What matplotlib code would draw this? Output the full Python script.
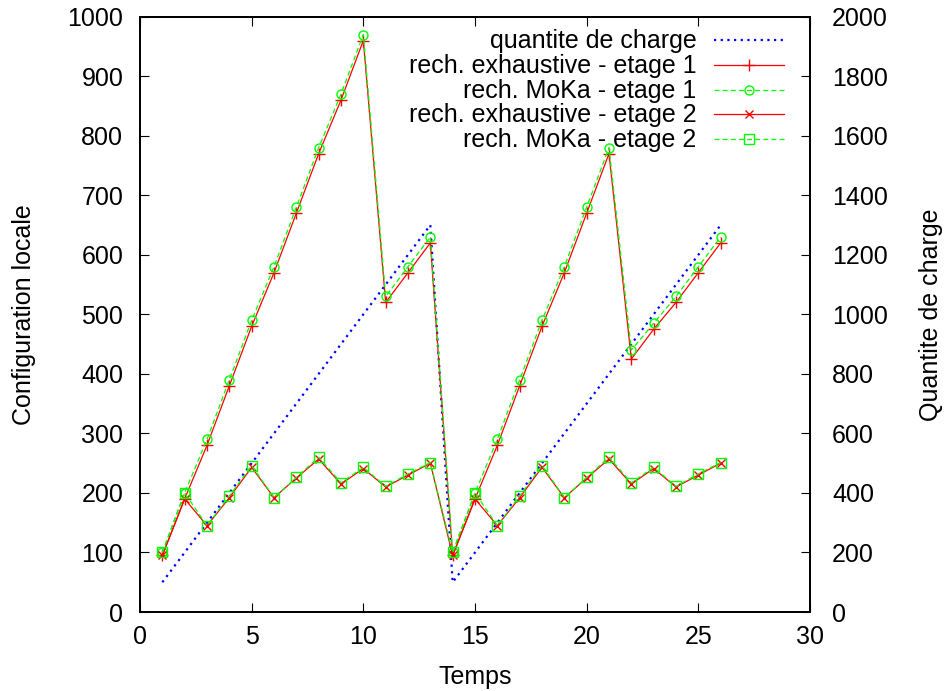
import matplotlib
matplotlib.use("Agg")
import matplotlib.pyplot as plt

plt.rcParams['font.family'] = ['Liberation Sans', 'DejaVu Sans']

temps = list(range(1, 27))
charge = [100, 200, 300, 400, 500, 600, 700, 800, 900, 1000, 1100, 1200, 1300,
          100, 200, 300, 400, 500, 600, 700, 800, 900, 1000, 1100, 1200, 1300]
exh_e1 = [95, 190, 280, 380, 480, 570, 670, 770, 860, 960, 520, 570, 620,
          95, 190, 280, 380, 480, 570, 670, 770, 425, 475, 520, 570, 620]
moka_e1 = [100, 200, 290, 390, 490, 580, 680, 780, 870, 970, 530, 580, 630,
           100, 200, 290, 390, 490, 580, 680, 780, 440, 485, 530, 580, 630]
exh_e2 = [95, 190, 145, 192, 243, 192, 225, 257, 215, 241, 210, 230, 250,
          95, 190, 145, 192, 243, 192, 225, 257, 215, 241, 210, 230, 250]
moka_e2 = [100, 200, 145, 195, 246, 192, 226, 260, 217, 243, 211, 232, 251,
           100, 200, 145, 195, 246, 192, 226, 260, 217, 243, 211, 232, 251]

fig = plt.figure(figsize=(9.44, 6.91), dpi=100)
ax = fig.add_axes([140/944, 1-612/691, 670/944, (612-16.7)/691])
ax2 = ax.twinx()
ax.set_zorder(ax2.get_zorder() + 1)
ax.patch.set_visible(False)

l0, = ax2.plot(temps, charge, color='#0000ff', lw=1.6, linestyle=(0, (1, 2.0)),
               label='quantite de charge')
l1, = ax.plot(temps, exh_e1, color='#ff0000', lw=0.9, marker='+', ms=8, mew=1,
              label='rech. exhaustive - etage 1')
l2, = ax.plot(temps, moka_e1, color='#00ff00', lw=0.9, linestyle=(0, (4, 2.5)),
              marker='o', ms=6.5, mfc='none', mew=1, label='rech. MoKa - etage 1')
l3, = ax.plot(temps, exh_e2, color='#ff0000', lw=0.9, marker='x', ms=6, mew=1,
              label='rech. exhaustive - etage 2')
l4, = ax.plot(temps, moka_e2, color='#00ff00', lw=0.9, linestyle=(0, (4, 2.5)),
              marker='s', ms=6.5, mfc='none', mew=1, label='rech. MoKa - etage 2')

ax.set_xlim(0, 30)
ax.set_ylim(0, 1000)
ax2.set_ylim(0, 2000)
ax.set_xticks(range(0, 31, 5))
ax.set_yticks(range(0, 1001, 100))
ax2.set_yticks(range(0, 2001, 200))

fs = 18
ax.tick_params(axis='both', direction='in', length=6.5, width=0.8, labelsize=fs)
ax.tick_params(axis='x', top=True, pad=9)
ax.tick_params(axis='y', right=False, pad=12)
ax2.tick_params(axis='y', direction='in', length=6.5, width=0.8, labelsize=fs, pad=16)
for a in (ax, ax2):
    for s in a.spines.values():
        s.set_linewidth(1.3)

ax.set_xlabel('Temps', fontsize=fs, labelpad=12)
ax.set_ylabel('Configuration locale', fontsize=fs, labelpad=23)
ax2.set_ylabel('Quantite de charge', fontsize=fs, labelpad=22)

leg = ax.legend(handles=[l0, l1, l2, l3, l4], loc='upper right',
                bbox_to_anchor=(0.98, 1.0), frameon=False, markerfirst=False,
                fontsize=fs, handlelength=2.8, handletextpad=0.7,
                labelspacing=0.03, handleheight=0.5, borderpad=0.0)

fig.savefig('out.png', dpi=100)
